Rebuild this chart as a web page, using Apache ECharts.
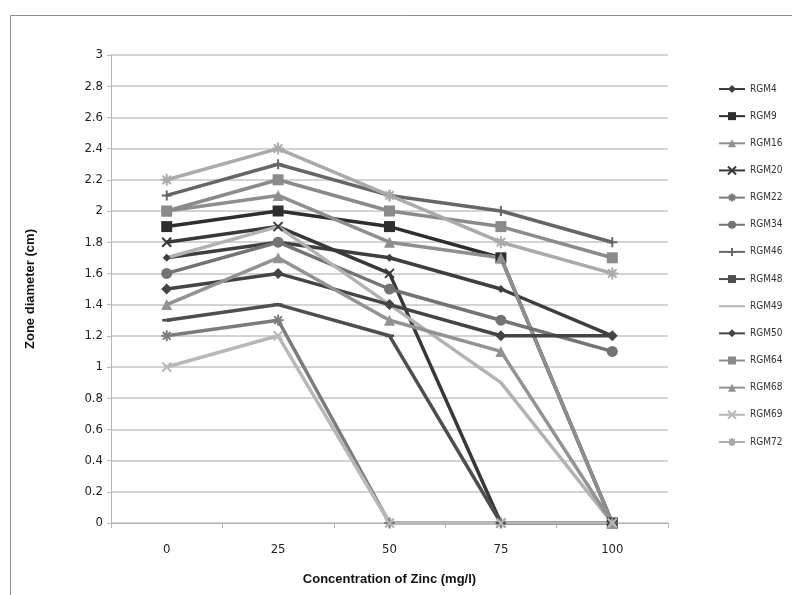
<!DOCTYPE html>
<html>
<head>
<meta charset="utf-8">
<script src="https://cdn.jsdelivr.net/npm/echarts@6/dist/echarts.min.js"></script>
<style>
  html, body { margin: 0; padding: 0; background: #fff; }
  #chart { width: 792px; height: 595px; }
</style>
</head>
<body>
<div id="chart"></div>
<script>
// Zinc concentration (mg/l) on the x axis
const categories = ['0', '25', '50', '75', '100'];

// Zone diameter (cm) per isolate, one value per concentration
const rgm4  = [1.7, 1.8, 1.7, 1.5, 1.2];
const rgm9  = [1.9, 2.0, 1.9, 1.7, 0];
const rgm16 = [2.0, 2.1, 1.8, 1.7, 0];
const rgm20 = [1.8, 1.9, 1.6, 0, 0];
const rgm22 = [1.2, 1.3, 0, 0, 0];
const rgm34 = [1.6, 1.8, 1.5, 1.3, 1.1];
const rgm46 = [2.1, 2.3, 2.1, 2.0, 1.8];
const rgm48 = [1.3, 1.4, 1.2, 0, 0];
const rgm49 = [1.7, 1.9, 1.4, 0.9, 0];
const rgm50 = [1.5, 1.6, 1.4, 1.2, 1.2];
const rgm64 = [2.0, 2.2, 2.0, 1.9, 1.7];
const rgm68 = [1.4, 1.7, 1.3, 1.1, 0];
const rgm69 = [1.0, 1.2, 0, 0, 0];
const rgm72 = [2.2, 2.4, 2.1, 1.8, 1.6];

const seriesNames = ['RGM4', 'RGM9', 'RGM16', 'RGM20', 'RGM22', 'RGM34', 'RGM46',
                     'RGM48', 'RGM49', 'RGM50', 'RGM64', 'RGM68', 'RGM69', 'RGM72'];
const seriesValues = [rgm4, rgm9, rgm16, rgm20, rgm22, rgm34, rgm46,
                      rgm48, rgm49, rgm50, rgm64, rgm68, rgm69, rgm72];

// Marker shapes: stroked crosses, and a flat bar for the dash marker
const X_MARK = 'path://M0,0L10,10M10,0L0,10';
const STAR_MARK = 'path://M5,0L5,10M0,5L10,5M1.5,1.5L8.5,8.5M8.5,1.5L1.5,8.5';
const PLUS_MARK = 'path://M5,0L5,10M0,5L10,5';
const DASH_MARK = 'path://M0,0L10,0L10,3L0,3Z';

// Per-series look: colour, marker, marker size, whether the marker is stroked
const looks = [
  { color: '#3e3e3e', symbol: 'diamond', size: 8 },
  { color: '#2e2e2e', symbol: 'rect', size: 11 },
  { color: '#8e8e8e', symbol: 'triangle', size: 11 },
  { color: '#383838', symbol: X_MARK, size: 9, stroke: true },
  { color: '#7c7c7c', symbol: STAR_MARK, size: 11, stroke: true },
  { color: '#737373', symbol: 'circle', size: 11 },
  { color: '#666666', symbol: PLUS_MARK, size: 10, stroke: true },
  { color: '#4e4e4e', symbol: DASH_MARK, size: 9, keep: true },
  { color: '#b2b2b2', symbol: 'none', size: 0 },
  { color: '#444444', symbol: 'diamond', size: 11 },
  { color: '#8a8a8a', symbol: 'rect', size: 11 },
  { color: '#929292', symbol: 'triangle', size: 11 },
  { color: '#b8b8b8', symbol: X_MARK, size: 9, stroke: true },
  { color: '#aaaaaa', symbol: STAR_MARK, size: 12, stroke: true }
];

const narrow = "'Liberation Sans Narrow', 'DejaVu Sans Condensed', 'Liberation Sans', sans-serif";

const series = seriesNames.map((name, i) => {
  const lk = looks[i];
  return {
    name: name,
    type: 'line',
    data: seriesValues[i],
    symbol: lk.symbol,
    symbolSize: lk.size,
    symbolKeepAspect: !!lk.keep,
    showSymbol: lk.symbol !== 'none',
    lineStyle: { color: lk.color, width: 3.5 },
    itemStyle: lk.stroke
      ? { color: lk.color, borderColor: lk.color, borderWidth: 2 }
      : { color: lk.color, borderWidth: 0 },
    emphasis: { disabled: true },
    animation: false
  };
});

// Legend entries; the marker-less series shows only its line
const legendData = seriesNames.map((name, i) =>
  looks[i].symbol === 'none' ? { name: name, itemStyle: { opacity: 0 } } : { name: name }
);

const chart = echarts.init(document.getElementById('chart'), null, { renderer: 'canvas' });
chart.setOption({
  backgroundColor: '#ffffff',
  animation: false,
  graphic: [{
    type: 'rect',
    shape: { x: 10.5, y: 15.5, width: 800, height: 600 },
    style: { fill: 'none', stroke: '#8c8c8c', lineWidth: 1 },
    silent: true
  }],
  grid: { left: 111, right: 124, top: 55, bottom: 72 },
  legend: {
    orient: 'vertical',
    left: 713,
    top: 79,
    itemWidth: 26,
    itemHeight: 10,
    itemGap: 17.15,
    textStyle: { fontFamily: narrow, fontSize: 10, color: '#333' },
    data: legendData
  },
  xAxis: {
    type: 'category',
    data: categories,
    boundaryGap: true,
    name: 'Concentration of Zinc (mg/l)',
    nameLocation: 'middle',
    nameGap: 50,
    nameTextStyle: { fontFamily: "'Liberation Sans', Arial, sans-serif", fontSize: 13, fontWeight: 'bold', color: '#111' },
    axisLine: { lineStyle: { color: '#b4b4b4', width: 1 } },
    axisTick: { show: true, length: 5, alignWithLabel: false, lineStyle: { color: '#b4b4b4' } },
    axisLabel: { fontFamily: narrow, fontSize: 13, color: '#222', margin: 20 },
    splitLine: { show: false }
  },
  yAxis: {
    type: 'value',
    min: 0,
    max: 3,
    interval: 0.2,
    name: 'Zone diameter (cm)',
    nameLocation: 'middle',
    nameGap: 74,
    nameRotate: 90,
    nameTextStyle: { fontFamily: "'Liberation Sans', Arial, sans-serif", fontSize: 13, fontWeight: 'bold', color: '#111' },
    axisLine: { show: true, lineStyle: { color: '#b4b4b4', width: 1 } },
    axisTick: { show: true, length: 4, lineStyle: { color: '#b4b4b4' } },
    axisLabel: { fontFamily: narrow, fontSize: 13, color: '#222', margin: 8 },
    splitLine: { show: true, lineStyle: { color: '#c4c4c4', width: 1.5 } }
  },
  series: series
});
</script>
</body>
</html>
